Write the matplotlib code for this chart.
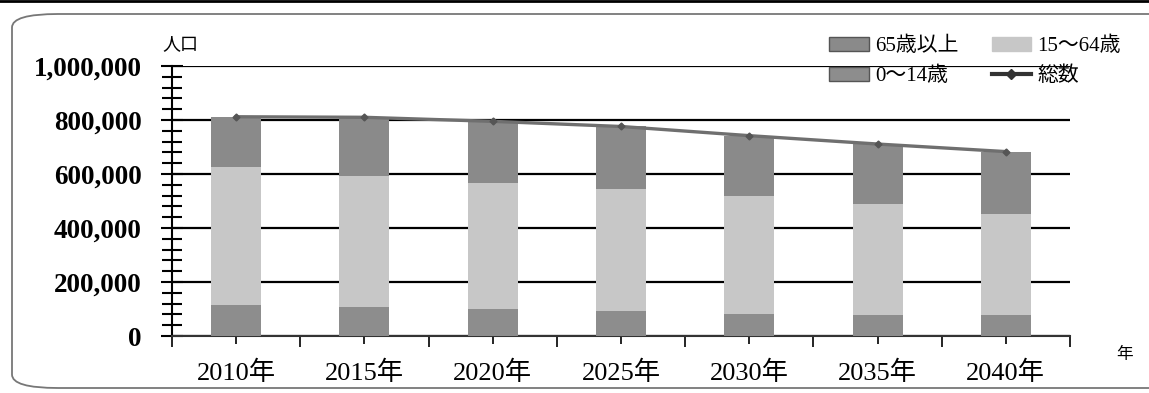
import numpy as np
import matplotlib.pyplot as plt
from matplotlib.patches import FancyBboxPatch, Patch
from matplotlib.lines import Line2D
from matplotlib.ticker import MultipleLocator, FuncFormatter

# 年齢3区分別の人口推計
years = ["2010年", "2015年", "2020年", "2025年", "2030年", "2035年", "2040年"]
age_0_14 = [116000, 107000, 101000, 91000, 83000, 78000, 76000]
age_15_64 = [509000, 485000, 466000, 455000, 437000, 411000, 376000]
age_65 = [187000, 218000, 228000, 230000, 222000, 222000, 231000]

serif = ["Liberation Serif", "Noto Sans CJK JP"]
plt.rcParams["font.family"] = ["Liberation Serif", "Noto Sans CJK JP", "DejaVu Sans"]

fig = plt.figure(figsize=(11.49, 3.93), dpi=100)
W, H = 1149, 393
ax = fig.add_axes([172 / W, 1 - 336 / H, (1070 - 172) / W, (336 - 66) / H])

x = np.arange(len(years))
a = np.array(age_0_14)
b = np.array(age_15_64)
c = np.array(age_65)
total = a + b + c

w = 0.39
ax.bar(x, a, w, color="#8d8d8d", zorder=3)
ax.bar(x, b, w, bottom=a, color="#c7c7c7", zorder=3)
ax.bar(x, c, w, bottom=a + b, color="#8a8a8a", zorder=3)
ax.plot(x, total, color="#6f6f6f", lw=2.4, marker="D", ms=3.5,
        mfc="#555555", mec="#555555", zorder=4)

ax.set_xlim(-0.5, len(years) - 0.5)
ax.set_ylim(0, 1000000)

ax.yaxis.set_major_locator(MultipleLocator(200000))
ax.yaxis.set_minor_locator(MultipleLocator(40000))
ax.yaxis.set_major_formatter(FuncFormatter(lambda v, p: f"{int(v):,}"))
ax.grid(axis="y", color="black", lw=1.6, zorder=1)

ax.set_xticks(x)
ax.set_xticklabels(years)
ax.set_xticks(np.arange(len(years) + 1) - 0.5, minor=True)

for s in ["top", "right"]:
    ax.spines[s].set_visible(False)
ax.spines["left"].set_linewidth(1.5)
ax.spines["bottom"].set_linewidth(1.5)
ax.spines["bottom"].set_color("#333333")

ax.tick_params(axis="y", which="major", direction="inout", length=16, width=1.5, pad=14,
               labelsize=19.5)
ax.tick_params(axis="y", which="minor", direction="inout", length=14, width=1.5)
ax.tick_params(axis="x", which="major", direction="inout", length=12, width=1.2, pad=12,
               labelsize=19)
ax.tick_params(axis="x", which="minor", direction="out", length=8, width=1.2)
for t in ax.get_yticklabels():
    t.set_fontweight("bold")

fig.text(180 / W, 1 - 44 / H, "人口", fontsize=13, ha="center", va="center",
         family=["Noto Sans CJK JP"])
fig.text(1125 / W, 1 - 355 / H, "年", fontsize=12, ha="center", va="center",
         family=["Noto Sans CJK JP"])

handles = [
    Patch(facecolor="#8a8a8a", edgecolor="#555555"),
    Patch(facecolor="#8d8d8d", edgecolor="#555555"),
    Patch(facecolor="#c7c7c7", edgecolor="#c7c7c7"),
    Line2D([], [], color="#333333", lw=3, marker="D", ms=5),
]
labels = ["65歳以上", "0～14歳", "15～64歳", "総数"]
fig.legend(handles, labels, ncol=2, loc="upper right", bbox_to_anchor=(1121 / W, 1 - 37 / H),
           frameon=False, handlelength=1.9, handleheight=0.6,
           columnspacing=1.6, labelspacing=0.5, handletextpad=0.3,
           borderaxespad=0, borderpad=0, prop={"family": serif, "size": 15})

# 外枠と上端の線
frame = FancyBboxPatch((12 / W, 5 / H), 1.2, 1 - 19 / H, transform=fig.transFigure,
                       boxstyle="round,pad=0,rounding_size=0.04", fill=False,
                       edgecolor="#777777", lw=1.3, mutation_aspect=H / W * 2.5)
fig.patches.append(frame)
fig.add_artist(Line2D([0, 1], [1 - 1 / H, 1 - 1 / H], transform=fig.transFigure,
                      color="black", lw=2))

fig.savefig("out.png", dpi=100)
